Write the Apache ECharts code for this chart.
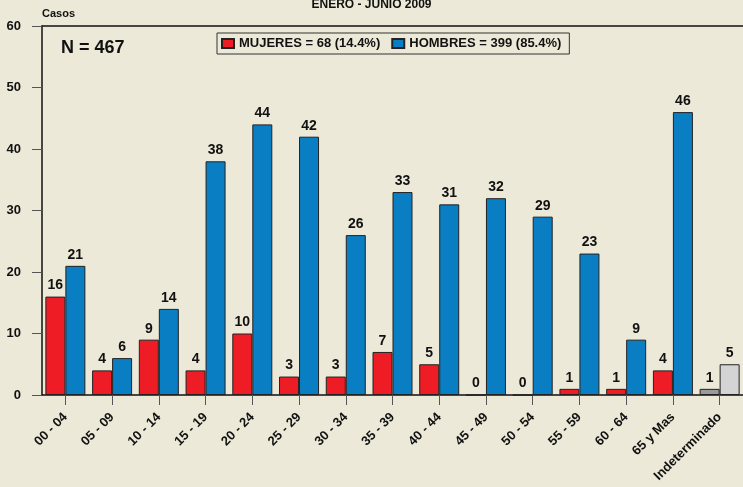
<!DOCTYPE html>
<html>
<head>
<meta charset="utf-8">
<script src="https://cdn.jsdelivr.net/npm/echarts@6/dist/echarts.min.js"></script>
<style>
html,body{margin:0;padding:0;background:#ECE9D8;}
#c{width:743px;height:487px;}
</style>
</head>
<body>
<div id="c"></div>
<script>
var categories = ['00 - 04','05 - 09','10 - 14','15 - 19','20 - 24','25 - 29','30 - 34','35 - 39','40 - 44','45 - 49','50 - 54','55 - 59','60 - 64','65 y Mas','Indeterminado'];
var mujeres = [16,4,9,4,10,3,3,7,5,0,0,1,1,4,1];
var hombres = [21,6,14,38,44,42,26,33,31,32,29,23,9,46,5];
var seriesNames = ['MUJERES = 68 (14.4%)','HOMBRES = 399 (85.4%)'];
var yTicks = [0,10,20,30,40,50,60];
var titleText = 'ENERO - JUNIO 2009';
var totalText = 'N = 467';

var FONT = '"Liberation Sans", Arial, sans-serif';
var lastIdx = categories.length - 1;
var chart = echarts.init(document.getElementById('c'));
function withSpecial(arr, special){
  return arr.map(function(v,i){ return i === lastIdx ? {value:v, itemStyle:{color:special}} : v; });
}
var lbl = {show:true, position:'top', distance:4, fontSize:14, fontWeight:'bold', color:'#111', fontFamily:FONT};
chart.setOption({
  backgroundColor:'#ECE9D8',
  animation:false,
  title:[
    {text:titleText, left:'center', top:-6, textStyle:{fontSize:12, fontWeight:'bold', color:'#111', fontFamily:FONT}},
    {text:totalText, left:56, top:34, textStyle:{fontSize:18, fontWeight:'bold', color:'#111', fontFamily:FONT}}
  ],
  legend:{
    left:217, top:33, padding:[4,8,4,4], itemGap:11, itemWidth:12, itemHeight:9,
    borderColor:'#333', borderWidth:1, backgroundColor:'#ECE9D8',
    textStyle:{fontSize:13, fontWeight:'bold', color:'#111', fontFamily:FONT},
    data:[{name:seriesNames[0], icon:'rect'},{name:seriesNames[1], icon:'rect'}]
  },
  grid:{left:42, right:0, top:26, bottom:92},
  xAxis:[{
    type:'category', data:categories, boundaryGap:true,
    axisLine:{lineStyle:{color:'#111', width:1.5}},
    axisTick:{show:true, alignWithLabel:true, length:10, lineStyle:{color:'#555', width:1}},
    axisLabel:{rotate:45, margin:20, fontSize:13, fontWeight:'bold', color:'#111', fontFamily:FONT, interval:0}
  },{
    type:'category', data:categories, position:'top',
    axisLine:{show:true, lineStyle:{color:'#111', width:1.5}},
    axisTick:{show:false}, axisLabel:{show:false}
  }],
  yAxis:{
    type:'value', min:yTicks[0], max:yTicks[yTicks.length-1], interval:10,
    name:'Casos', nameLocation:'end', nameGap:7,
    nameTextStyle:{fontSize:11, fontWeight:'bold', color:'#111', fontFamily:FONT, align:'left'},
    axisLine:{show:true, lineStyle:{color:'#111', width:1.5}},
    axisTick:{show:true, length:10, lineStyle:{color:'#555'}},
    axisLabel:{margin:21, fontSize:13, fontWeight:'bold', color:'#111', fontFamily:FONT},
    splitLine:{show:false}
  },
  series:[
    {name:seriesNames[0], type:'bar', data:withSpecial(mujeres,'#9A9A9A'), barWidth:20, barGap:'0%',
     itemStyle:{color:'#EE1C25', borderColor:'#222', borderWidth:1},
     label:lbl},
    {name:seriesNames[1], type:'bar', data:withSpecial(hombres,'#D4D4D4'), barWidth:20, barGap:'0%',
     itemStyle:{color:'#0A7EC2', borderColor:'#222', borderWidth:1},
     label:lbl}
  ]
});
</script>
</body>
</html>
